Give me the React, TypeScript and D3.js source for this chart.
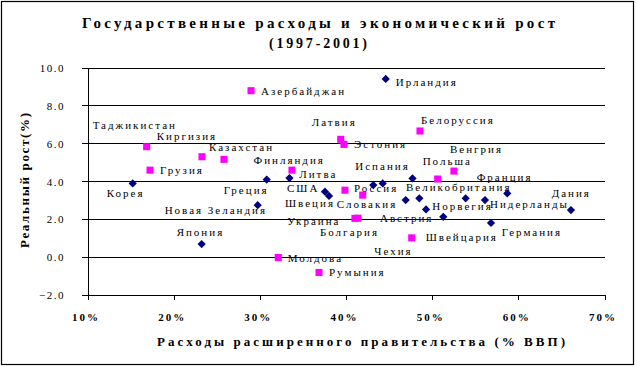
import React from "react";
import * as d3 from "d3";

// ---------- data ----------
const TITLE_1 = "Государственные расходы и экономический рост";
const TITLE_2 = "(1997-2001)";
const X_TITLE = "Расходы расширенного правительства (% ВВП)";
const Y_TITLE = "Реальный рост(%)";

const X_TICKS = [10, 20, 30, 40, 50, 60, 70];
const Y_TICKS = [-2, 0, 2, 4, 6, 8, 10];

// OECD countries (navy diamonds)
const OECD_NAMES = [
  "Ирландия", "Корея", "Греция", "Новая Зеландия", "Япония", "Финляндия", "США", "Швеция",
  "Испания", "", "Великобритания", "Австрия", "", "Норвегия", "Швейцария", "", "Нидерланды",
  "Франция", "Германия", "Дания",
];
const OECD_SPEND = [
  44.55, 15.19, 30.74, 29.69, 23.19, 33.38, 37.5, 37.97,
  43.11, 44.2, 47.66, 46.87, 48.45, 49.23, 51.23, 53.83, 56.07,
  58.66, 56.77, 66.05,
];
const OECD_GROWTH = [
  9.42, 3.9, 4.1, 2.75, 0.69, 4.18, 3.46, 3.24,
  3.81, 3.9, 4.16, 3.02, 3.11, 2.52, 2.13, 3.11, 3.02,
  3.37, 1.81, 2.49,
];

// Transition economies (magenta squares)
const TRANS_NAMES = [
  "Азербайджан", "Таджикистан", "Грузия", "Киргизия", "Казахстан", "Латвия", "Эстония",
  "Литва", "Россия", "Словакия", "Украина", "Болгария", "Чехия", "Молдова", "Румыния",
  "Белоруссия", "Польша", "Венгрия",
];
const TRANS_SPEND = [
  28.92, 16.81, 17.2, 23.23, 25.78, 39.33, 39.71,
  33.67, 39.82, 41.88, 40.98, 41.33, 47.57, 32.08, 36.81,
  48.53, 50.58, 52.47,
];
const TRANS_GROWTH = [
  8.8, 5.84, 4.6, 5.31, 5.17, 6.23, 5.96,
  4.6, 3.54, 3.28, 2.05, 2.06, 1.02, -0.02, -0.81,
  6.67, 4.13, 4.55,
];

// ---------- label placement (pixel offsets from the point: text start, text middle) ----------
const LABEL_OFFSETS: Record<string, [number, number]> = {
  "Ирландия": [10, 3],
  "Корея": [-26, 9.4],
  "Греция": [-43, 10.5],
  "Новая Зеландия": [-93, 5],
  "Япония": [-25, -12.3],
  "Финляндия": [-36, -18],
  "США": [-38, -3.4],
  "Швеция": [-44, 7.6],
  "Испания": [-18, -19],
  "Великобритания": [-6.5, 9],
  "Норвегия": [6.3, -3.3],
  "Австрия": [-25.7, 17.7],
  "Швейцария": [-17.6, 20.6],
  "Нидерланды": [5, 4],
  "Франция": [-30.6, -16.6],
  "Германия": [10.7, 9.3],
  "Дания": [-19.3, -17.3],
  "Азербайджан": [10, 0.3],
  "Таджикистан": [-54, -21.7],
  "Киргизия": [-45.3, -20.7],
  "Казахстан": [-15, -12],
  "Грузия": [10, 0],
  "Латвия": [-29, -17],
  "Эстония": [10, 0],
  "Литва": [7.3, 4],
  "Россия": [9, -2.7],
  "Словакия": [-26, 9],
  "Украина": [-67.7, 2.7],
  "Болгария": [-38, 14.3],
  "Чехия": [-37.4, 13],
  "Молдова": [9.4, 0],
  "Румыния": [10, 0],
  "Белоруссия": [1, -11],
  "Польша": [-15, -18.3],
  "Венгрия": [-4, -22],
};

const W = 637;
const H = 367;
const FONT = "'Liberation Serif', 'Times New Roman', serif";

export default function App() {
  const x = d3.scaleLinear().domain([10, 70]).range([88, 605]);
  const y = d3.scaleLinear().domain([-2, 10]).range([295, 68]);
  const fmtY = d3.format(".1f");

  const diamond = d3.symbol().type(d3.symbolSquare).size(34)();
  const square = d3.symbol().type(d3.symbolSquare).size(50)();

  const oecd = OECD_NAMES.map((n, i) => ({ n, sx: OECD_SPEND[i], gy: OECD_GROWTH[i] }));
  const trans = TRANS_NAMES.map((n, i) => ({ n, sx: TRANS_SPEND[i], gy: TRANS_GROWTH[i] }));

  const label = (d: { n: string; sx: number; gy: number }, key: string) => {
    if (!d.n) return null;
    const off = LABEL_OFFSETS[d.n] || [8, 0];
    return (
      <text
        key={key}
        x={x(d.sx) + off[0]}
        y={y(d.gy) + off[1] + 4}
        fontSize={11}
        letterSpacing={2}
        fill="#000"
      >
        {d.n}
      </text>
    );
  };

  return (
    <svg
      width={W}
      height={H}
      style={{ position: "absolute", left: 0, top: 0, background: "#fff" }}
      fontFamily={FONT}
    >
      <rect x={0} y={0} width={W} height={H} fill="#fff" />
      <rect x={1.5} y={1.5} width={632} height={363} fill="none" stroke="#000" strokeWidth={1.2} />

      {/* titles */}
      <text x={318.5} y={28} textAnchor="middle" fontSize={15} fontWeight="bold" textLength={473} lengthAdjust="spacing">
        {TITLE_1}
      </text>
      <text x={318} y={48} textAnchor="middle" fontSize={14} fontWeight="bold" textLength={98} lengthAdjust="spacing">
        {TITLE_2}
      </text>

      {/* gridlines */}
      {Y_TICKS.map((t) => (
        <line key={"g" + t} x1={x(10)} x2={x(70)} y1={y(t)} y2={y(t)} stroke="#000" strokeWidth={1} shapeRendering="crispEdges" />
      ))}

      {/* y axis */}
      <line x1={x(10)} x2={x(10)} y1={y(10)} y2={y(-2)} stroke="#000" strokeWidth={1} shapeRendering="crispEdges" />
      {Y_TICKS.map((t) => (
        <g key={"yt" + t}>
          <line x1={x(10) - 6} x2={x(10)} y1={y(t)} y2={y(t)} stroke="#000" shapeRendering="crispEdges" />
          <text x={65} y={y(t) + 4} textAnchor="end" fontSize={11} letterSpacing={1.5}>
            {fmtY(t)}
          </text>
        </g>
      ))}

      {/* x axis ticks */}
      {X_TICKS.map((t) => (
        <g key={"xt" + t}>
          <line x1={x(t)} x2={x(t)} y1={y(-2)} y2={y(-2) + 5} stroke="#000" shapeRendering="crispEdges" />
          <text x={x(t) - 2} y={y(-2) + 26} textAnchor="middle" fontSize={11} fontWeight="bold" letterSpacing={2}>
            {t + "%"}
          </text>
        </g>
      ))}

      {/* axis titles */}
      <text x={361} y={346} textAnchor="middle" fontSize={13} fontWeight="bold" textLength={408} lengthAdjust="spacing">
        {X_TITLE}
      </text>
      <text
        transform={`translate(29, 180.5) rotate(-90)`}
        textAnchor="middle"
        fontSize={13}
        fontWeight="bold"
        textLength={135}
        lengthAdjust="spacing"
      >
        {Y_TITLE}
      </text>

      {/* points */}
      {oecd.map((d, i) => (
        <path key={"o" + i} d={diamond} transform={`translate(${x(d.sx)},${y(d.gy)}) rotate(45)`} fill="#000080" />
      ))}
      {trans.map((d, i) => (
        <path key={"t" + i} d={square} transform={`translate(${x(d.sx)},${y(d.gy)})`} fill="#FF00FF" />
      ))}

      {/* labels */}
      {oecd.map((d, i) => label(d, "lo" + i))}
      {trans.map((d, i) => label(d, "lt" + i))}
    </svg>
  );
}
